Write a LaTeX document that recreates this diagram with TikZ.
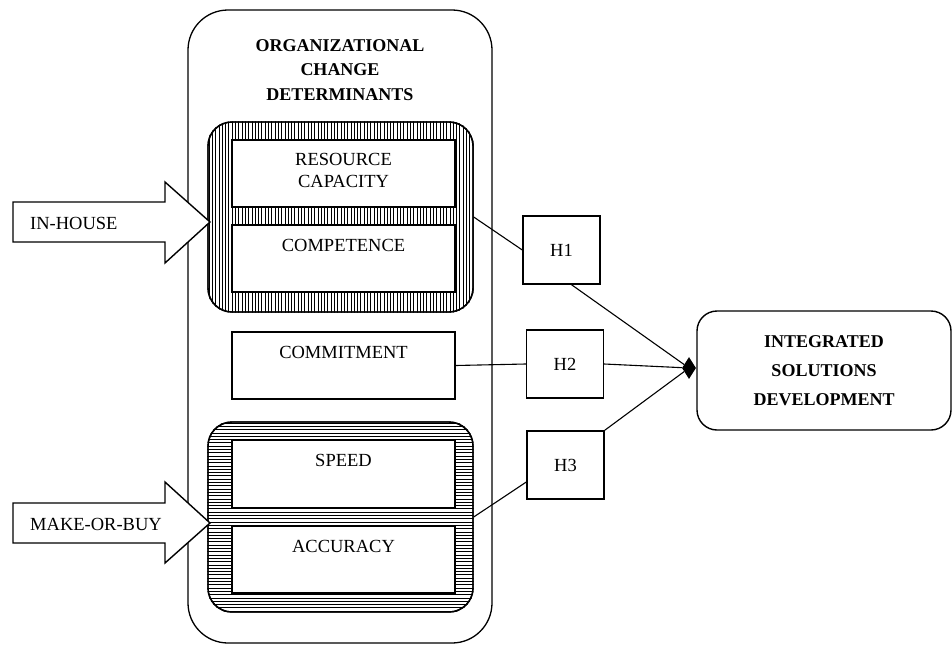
\documentclass[tikz,border=0pt]{standalone}
\usepackage{fontspec}
\setmainfont{Liberation Serif}
\usetikzlibrary{calc,shapes.geometric}

\tikzset{
  x=1pt, y=-1pt,
  frame/.style={draw, line width=1.4pt, rectangle, inner sep=0pt},
  group/.style={frame, rounded corners=24pt, minimum width=265pt, minimum height=190pt},
  factor/.style={frame, fill=white, minimum width=223pt, minimum height=67pt},
  hyp/.style={frame, minimum width=77pt, minimum height=68pt, font=\fontsize{18.5}{22}\selectfont},
  caption/.style={anchor=north, inner sep=0pt, align=center, font=\fontsize{18.5}{22}\selectfont},
  hatch/.style={line width=0.7pt},
  conn/.style={line width=1.1pt},
  fatarrow/.style={draw, line width=1.4pt, fill=white, line join=miter},
}

\begin{document}
\begin{tikzpicture}
\useasboundingbox (0,0) rectangle (952,645);

% outer container
\node[frame, rounded corners=40pt, minimum width=304pt, minimum height=633pt, line width=1.3pt] (outer) at (340,326.5) {};
\node[anchor=north, inner sep=0pt, align=center, font=\fontsize{18}{24.5}\selectfont\bfseries] (title) at (340,39)
  {ORGANIZATIONAL\\CHANGE\\DETERMINANTS};

% first hatched group (vertical lines)
\node[group] (grpA) at (340.5,217) {};
\begin{scope}
  \clip[rounded corners=24pt] (grpA.south west) rectangle (grpA.north east);
  \foreach \x in {209,212.3,...,474} \draw[hatch] (\x,120) -- (\x,314);
\end{scope}
\node[group] at (grpA) {};

% second hatched group (horizontal lines)
\node[group] (grpB) at (340.5,517) {};
\begin{scope}
  \clip[rounded corners=24pt] (grpB.south west) rectangle (grpB.north east);
  \foreach \y in {423,426.3,...,613} \draw[hatch] (206,\y) -- (475,\y);
\end{scope}
\node[group] at (grpB) {};

% determinant boxes
\node[factor] (res)    at (343.5,173.5) {};
\node[factor] (comp)   at (343.5,258.5) {};
\node[factor] (commit) at (343.5,365.5) {};
\node[factor] (speed)  at (343.5,474) {};
\node[factor] (acc)    at (343.5,559.5) {};

\node[caption] at ($(res.north)+(0,14)$) {RESOURCE\\CAPACITY};
\node[caption] at ($(comp.north)+(0,15)$) {COMPETENCE};
\node[caption] at ($(commit.north)+(0,15)$) {COMMITMENT};
\node[caption] at ($(speed.north)+(0,14)$) {SPEED};
\node[caption] at ($(acc.north)+(0,15)$) {ACCURACY};

% input arrows
\draw[fatarrow] (13,202) -- (165,202) -- (165,182) -- (210,222) -- (165,263) -- (165,242) -- (13,242) -- cycle;
\node[anchor=west, inner sep=0pt, font=\fontsize{18.5}{22}\selectfont] (inhouse) at (30,223.5) {IN-HOUSE};
\draw[fatarrow] (13,503) -- (165,503) -- (165,482) -- (210,523) -- (165,563) -- (165,543) -- (13,543) -- cycle;
\node[anchor=west, inner sep=0pt, font=\fontsize{18.5}{22}\selectfont] (mob) at (30,524.5) {MAKE-OR-BUY};

% hypotheses
\node[hyp] (H1) at (561.5,250) {H1};
\node[hyp] (H2) at (565,364) {H2};
\node[hyp] (H3) at (565.5,465) {H3};

% outcome
\node[frame, rounded corners=20pt, minimum width=254pt, minimum height=119pt, align=center,
      font=\fontsize{18}{29}\selectfont\bfseries] (isd) at (824,370.5)
  {INTEGRATED\\SOLUTIONS\\DEVELOPMENT};

\node[diamond, fill=black, inner sep=0pt, minimum width=14pt, minimum height=22pt] (dia) at (689,368) {};

% connectors
\draw[conn] (grpA.east) -- (H1.west);
\draw[conn] (commit.east) -- (H2.west);
\draw[conn] (grpB.east) -- ([yshift=-17pt]H3.west);
\draw[conn] ([xshift=10pt]H1.south) -- (dia);
\draw[conn] (H2.east) -- (dia);
\draw[conn] (H3.north east) -- (dia);
\end{tikzpicture}
\end{document}
